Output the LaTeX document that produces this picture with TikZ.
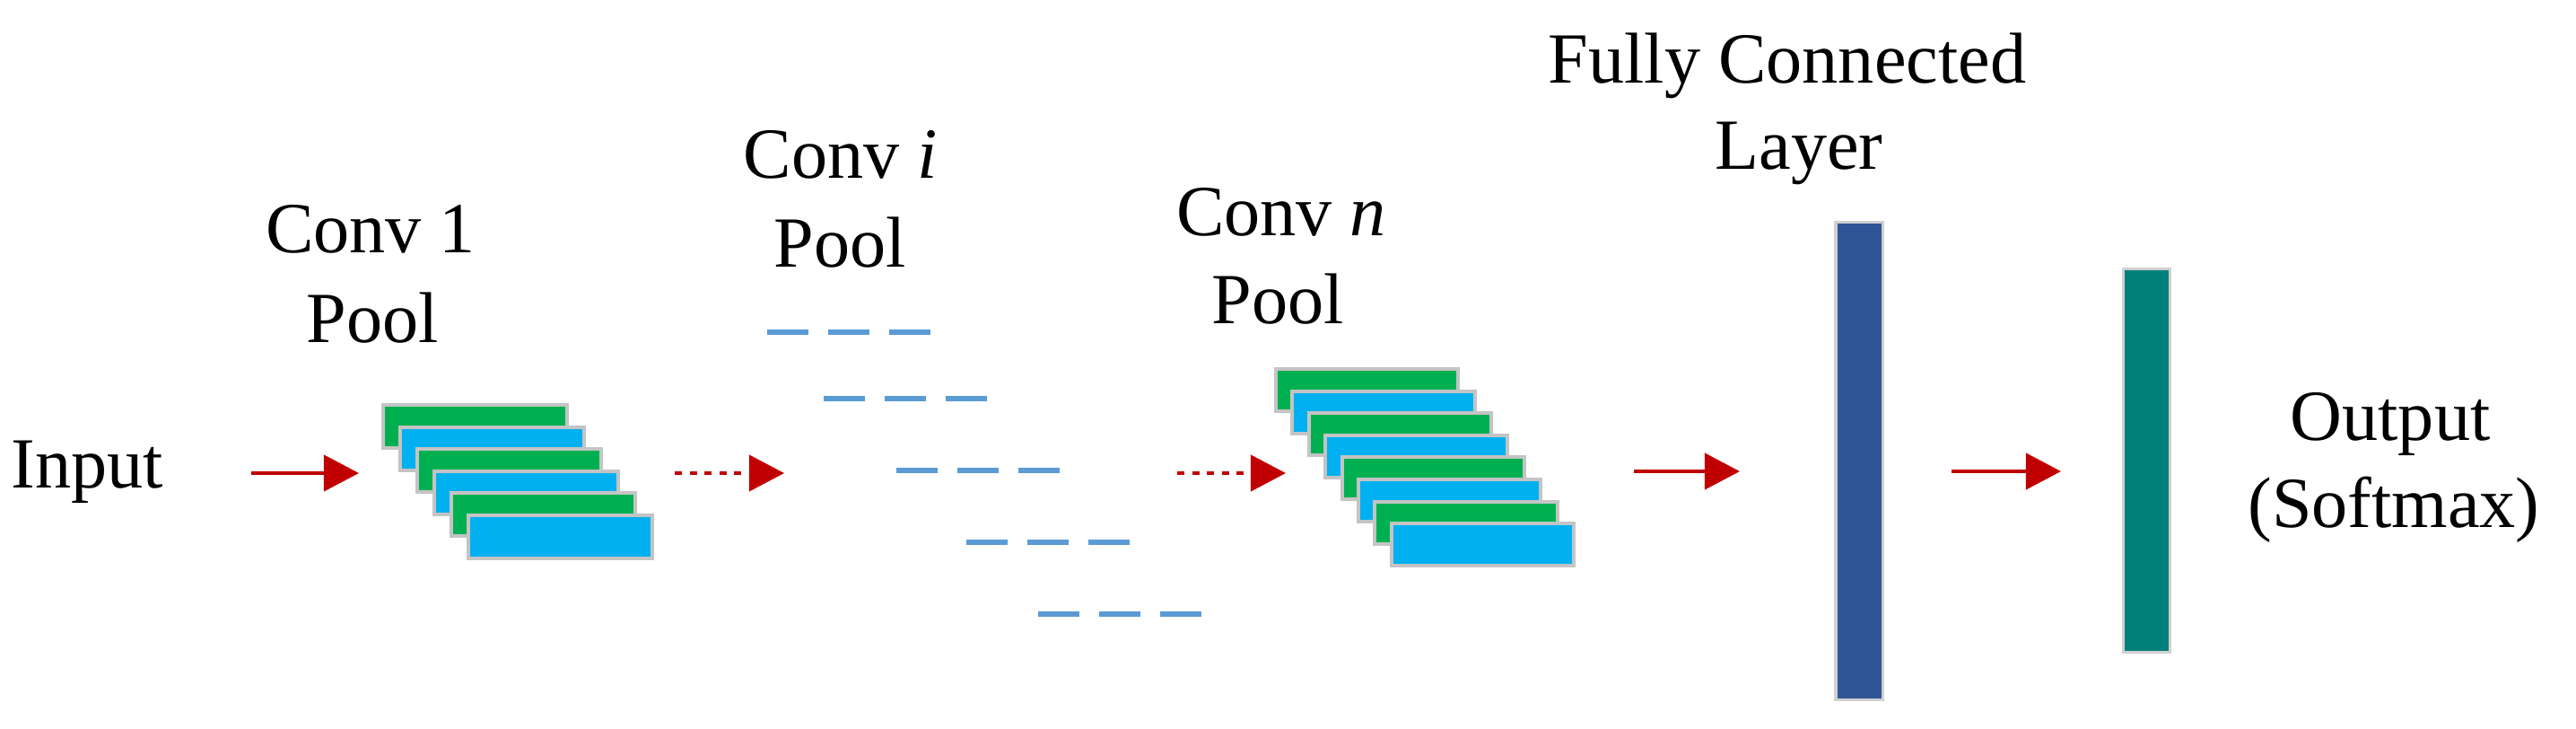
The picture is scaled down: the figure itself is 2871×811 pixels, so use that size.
\documentclass[tikz,border=0pt]{standalone}
\usepackage{fontspec}
\setmainfont{Liberation Serif}
\usetikzlibrary{arrows.meta}
\definecolor{cgreen}{HTML}{00B050}
\definecolor{cblue}{HTML}{00B0F0}
\definecolor{fcblue}{HTML}{2F5597}
\definecolor{outteal}{HTML}{008079}
\definecolor{arrred}{HTML}{C00000}
\definecolor{dashblue}{HTML}{5B9BD5}
\definecolor{edgegray}{HTML}{C4C4C4}
\begin{document}
\begin{tikzpicture}[x=0.01cm,y=-0.01cm,
  lbl/.style={font=\fontsize{22.8}{28.5}\selectfont, anchor=base, inner sep=0pt},
  fmap/.style={draw=edgegray, line width=0.04cm, minimum width=2.05cm, minimum height=0.48cm, inner sep=0pt, anchor=north west},
  fmapn/.style={fmap, minimum width=2.03cm, minimum height=0.47cm},
  bar/.style={draw=edgegray!80, line width=0.03cm, minimum width=0.52cm, inner sep=0pt},
  solidarr/.style={draw=arrred, line width=0.04cm, -{Triangle[length=0.39cm,width=0.40cm]}},
  dotarr/.style={solidarr, dash pattern=on 0.08cm off 0.085cm},
  dashline/.style={draw=dashblue, line width=0.055cm, dash pattern=on 0.46cm off 0.22cm}
]
\useasboundingbox (0,0) rectangle (2871,811);

% labels
\node[lbl, anchor=base west] (input) at (12,543) {Input};
\node[lbl] (c1a) at (413,281) {Conv 1};
\node[lbl] (c1b) at (415,381) {Pool};
\node[lbl] (cia) at (937,198) {Conv \textit{i}};
\node[lbl] (cib) at (936,297) {Pool};
\node[lbl] (cna) at (1428,262) {Conv \textit{n}};
\node[lbl] (cnb) at (1424,360) {Pool};
\node[lbl] (fca) at (1992,92) {Fully Connected};
\node[lbl] (fcb) at (2005,188) {Layer};
\node[lbl] (outa) at (2664,490) {Output};
\node[lbl] (outb) at (2668,587) {(Softmax)};

% conv 1 stack
\foreach \k/\c in {0/cgreen,1/cblue,2/cgreen,3/cblue,4/cgreen,5/cblue}{
  \node[fmap, fill=\c] (s1-\k) at ({425+19*\k},{449+24.6*\k}) {};
}
% conv n stack
\foreach \k/\c in {0/cgreen,1/cblue,2/cgreen,3/cblue,4/cgreen,5/cblue,6/cgreen,7/cblue}{
  \node[fmapn, fill=\c] (sn-\k) at ({1420+18.4*\k},{409+24.6*\k}) {};
}

% fully connected and output bars
\node[bar, fill=fcblue, minimum height=5.32cm] (fc) at (2072,513.5) {};
\node[bar, fill=outteal, minimum height=4.27cm] (out) at (2392,513) {};

% dashed placeholders for intermediate layers
\foreach \xs/\yy in {855/370, 918/444, 999/524, 1077/604, 1157/684}{
  \draw[dashline] (\xs,\yy) -- ++(182,0);
}

% arrows
\coordinate (a1s) at (280,527);
\coordinate (a1e) at (400,527);
\coordinate (a2s) at (752,527);
\coordinate (a2e) at (874,527);
\coordinate (a3s) at (1312,527);
\coordinate (a3e) at (1433,527);
\coordinate (a4s) at (1821,525);
\coordinate (a4e) at (1939,525);
\coordinate (a5s) at (2175,525);
\coordinate (a5e) at (2297,525);
\draw[solidarr] (a1s) -- (a1e);
\draw[dotarr] (a2s) -- (a2e);
\draw[dotarr] (a3s) -- (a3e);
\draw[solidarr] (a4s) -- (a4e);
\draw[solidarr] (a5s) -- (a5e);
\end{tikzpicture}
\end{document}
